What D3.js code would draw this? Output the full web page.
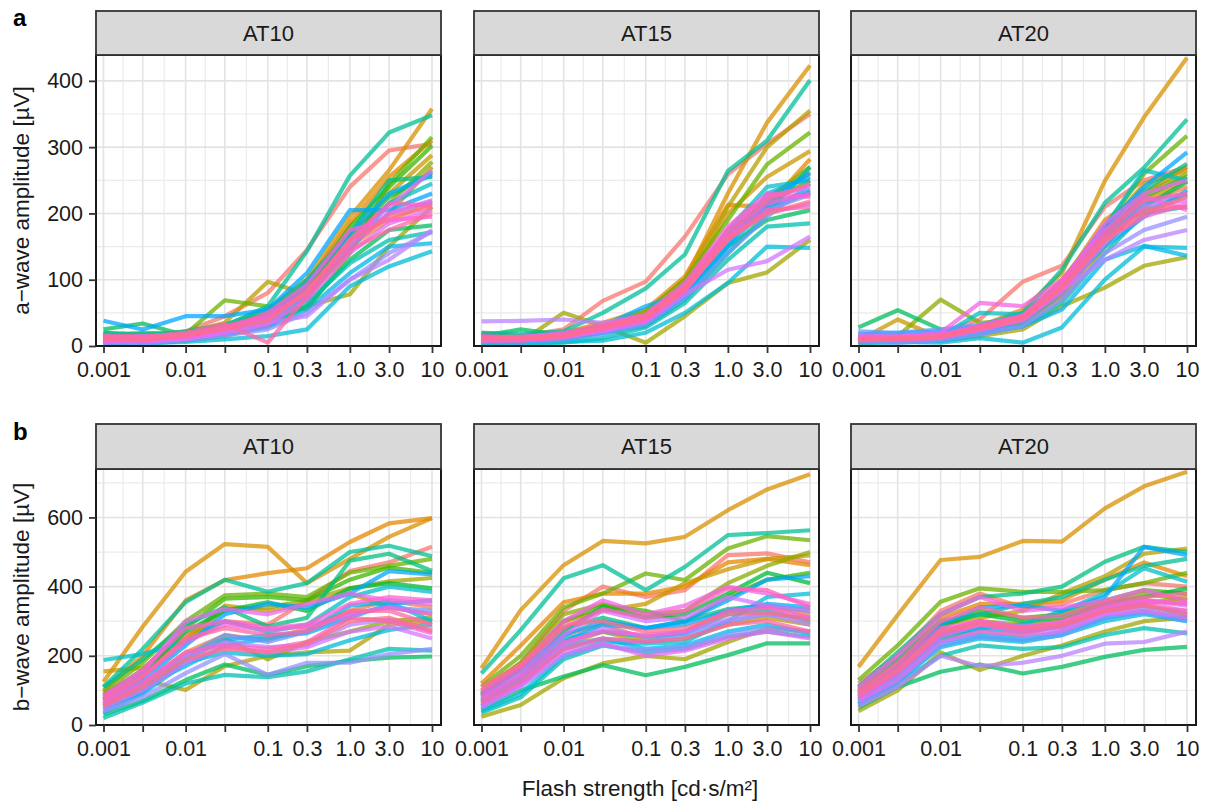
<!DOCTYPE html>
<html lang="en">
<head>
  <meta charset="UTF-8" />
  <title>a-wave and b-wave amplitudes</title>
  <script src="https://d3js.org/d3.v7.min.js"></script>
  <style>
    body, html {
      margin: 0;
      padding: 0;
      background: #fff;
    }
    svg {
      display: block;
      font-family: "Liberation Sans", Arial, sans-serif;
    }
  </style>
</head>
<body>
  <svg id="chart" width="1210" height="801"></svg>
  <script>
    // Flash strengths (x values) and their tick labels
    const flashStrengths = [0.001, 0.003, 0.01, 0.03, 0.1, 0.3, 1, 3, 10];
    const xTickLabels = ['0.001', '', '0.01', '', '0.1', '0.3', '1.0', '3.0', '10'];
    const ages = ['AT10', 'AT15', 'AT20'];
    const aTicks = [0, 100, 200, 300, 400];
    const bTicks = [0, 200, 400, 600];

    // one row per animal (30 animals), one value per flash strength
    const aAT10 = [
      [12, 14, 22, 45, 80, 145, 240, 295, 305],
      [8, 6, 12, 22, 35, 70, 150, 190, 215],
      [10, 8, 14, 28, 45, 95, 185, 255, 310],
      [14, 10, 18, 30, 50, 100, 195, 265, 358],
      [6, 9, 15, 25, 42, 85, 170, 230, 288],
      [18, 12, 20, 35, 97, 78, 150, 200, 270],
      [4, 5, 8, 15, 30, 60, 78, 150, 210],
      [10, 12, 16, 24, 38, 72, 160, 215, 278],
      [15, 20, 18, 69, 60, 55, 140, 245, 315],
      [7, 10, 14, 26, 40, 90, 180, 240, 302],
      [11, 8, 16, 30, 48, 88, 165, 225, 262],
      [25, 34, 16, 20, 35, 60, 130, 175, 182],
      [20, 15, 22, 32, 55, 100, 170, 250, 255],
      [20, 18, 20, 30, 60, 143, 257, 322, 348],
      [5, 3, 8, 18, 30, 65, 125, 160, 172],
      [12, 10, 14, 22, 36, 75, 145, 215, 245],
      [2, 4, 6, 10, 15, 25, 90, 120, 143],
      [8, 6, 10, 18, 28, 55, 110, 150, 155],
      [15, 12, 18, 28, 45, 95, 170, 230, 258],
      [38, 25, 45, 45, 55, 110, 205, 205, 230],
      [9, 11, 13, 22, 34, 78, 155, 200, 218],
      [6, 4, 9, 16, 25, 50, 100, 140, 172],
      [10, 8, 12, 20, 35, 45, 100, 130, 175],
      [13, 15, 18, 27, 40, 80, 160, 210, 265],
      [5, 7, 10, 20, 32, 70, 140, 185, 205],
      [14, 12, 17, 28, 42, 85, 150, 200, 220],
      [8, 10, 14, 25, 50, 92, 175, 190, 195],
      [11, 9, 15, 30, 46, 80, 160, 215, 212],
      [16, 14, 20, 33, 5, 75, 145, 175, 200],
      [12, 10, 16, 26, 38, 82, 158, 195, 210]
    ];
    const aAT15 = [
      [20, 15, 25, 68, 97, 165, 259, 305, 350],
      [10, 8, 15, 28, 42, 90, 175, 225, 260],
      [14, 12, 20, 35, 55, 105, 213, 210, 282],
      [8, 6, 12, 25, 50, 100, 230, 337, 423],
      [12, 10, 18, 30, 48, 90, 200, 255, 294],
      [15, 12, 20, 30, 45, 95, 210, 300, 355],
      [5, 6, 50, 30, 5, 45, 95, 111, 160],
      [10, 12, 16, 25, 40, 85, 170, 220, 270],
      [18, 10, 14, 28, 52, 100, 190, 274, 322],
      [8, 10, 12, 22, 35, 80, 160, 215, 250],
      [12, 14, 18, 30, 45, 88, 165, 205, 232],
      [15, 25, 16, 25, 38, 82, 150, 190, 205],
      [6, 8, 10, 20, 30, 70, 140, 200, 270],
      [20, 18, 22, 50, 87, 138, 264, 310, 401],
      [4, 2, 5, 12, 28, 65, 130, 180, 185],
      [12, 10, 15, 28, 42, 88, 175, 240, 250],
      [2, 3, 6, 8, 20, 50, 95, 150, 148],
      [10, 8, 12, 20, 35, 75, 150, 230, 255],
      [8, 10, 15, 30, 60, 80, 150, 210, 235],
      [14, 12, 18, 28, 44, 92, 170, 215, 262],
      [6, 5, 10, 18, 32, 72, 140, 195, 245],
      [11, 13, 20, 26, 40, 85, 160, 205, 228],
      [37, 38, 40, 35, 45, 90, 165, 200, 215],
      [9, 11, 14, 22, 36, 78, 115, 128, 165],
      [12, 14, 16, 26, 42, 90, 175, 225, 240],
      [7, 9, 12, 24, 38, 82, 165, 215, 230],
      [15, 13, 19, 32, 48, 95, 180, 230, 225],
      [10, 8, 14, 27, 40, 85, 160, 205, 210],
      [13, 11, 17, 30, 45, 90, 170, 220, 245],
      [11, 12, 15, 28, 43, 86, 162, 200, 218]
    ];
    const aAT20 = [
      [15, 12, 20, 40, 97, 121, 210, 250, 270],
      [10, 8, 14, 25, 40, 85, 170, 215, 240],
      [12, 10, 16, 30, 48, 95, 190, 230, 270],
      [10, 8, 15, 30, 55, 110, 249, 345, 435],
      [8, 40, 12, 24, 38, 80, 175, 245, 265],
      [6, 8, 10, 20, 30, 70, 150, 220, 250],
      [5, 6, 8, 15, 25, 60, 88, 121, 134],
      [12, 15, 70, 35, 40, 75, 160, 230, 260],
      [9, 12, 14, 28, 45, 100, 180, 260, 317],
      [14, 10, 18, 30, 42, 90, 170, 225, 255],
      [7, 9, 12, 22, 35, 80, 160, 210, 248],
      [28, 54, 25, 20, 38, 85, 165, 205, 228],
      [11, 13, 16, 26, 40, 88, 170, 235, 275],
      [12, 10, 18, 30, 50, 115, 216, 269, 342],
      [6, 5, 8, 18, 30, 65, 140, 200, 210],
      [13, 11, 15, 50, 48, 90, 180, 265, 250],
      [4, 6, 5, 12, 5, 28, 100, 150, 148],
      [8, 6, 10, 20, 30, 55, 130, 151, 136],
      [10, 12, 16, 28, 42, 85, 150, 195, 235],
      [18, 20, 22, 30, 44, 95, 180, 240, 292],
      [22, 20, 25, 32, 46, 92, 165, 215, 230],
      [7, 5, 9, 18, 30, 70, 140, 175, 195],
      [14, 12, 18, 28, 40, 85, 130, 160, 175],
      [9, 11, 14, 24, 38, 80, 155, 210, 220],
      [12, 14, 17, 30, 45, 95, 185, 230, 250],
      [16, 14, 20, 65, 60, 100, 175, 225, 205],
      [8, 10, 12, 25, 40, 85, 160, 195, 215],
      [13, 11, 16, 30, 46, 98, 170, 220, 230],
      [11, 9, 15, 28, 44, 90, 165, 205, 210],
      [10, 12, 14, 26, 42, 88, 160, 200, 225]
    ];
    const bAT10 = [
      [90, 150, 260, 300, 290, 360, 445, 470, 515],
      [70, 120, 210, 260, 245, 280, 330, 360, 340],
      [100, 200, 360, 419, 439, 453, 529, 583, 598],
      [125, 284, 443, 523, 515, 410, 480, 544, 598],
      [155, 165, 250, 345, 330, 350, 380, 340, 320],
      [60, 130, 101, 170, 200, 210, 215, 290, 300],
      [80, 140, 240, 335, 340, 360, 395, 415, 425],
      [50, 100, 200, 250, 190, 240, 270, 300, 310],
      [95, 180, 300, 375, 380, 370, 440, 460, 480],
      [85, 160, 280, 365, 370, 360, 420, 455, 440],
      [75, 150, 270, 330, 355, 330, 395, 410, 395],
      [30, 70, 130, 175, 145, 170, 185, 195, 198],
      [110, 190, 290, 340, 285, 310, 475, 495, 445],
      [110, 220, 355, 420, 385, 410, 500, 518, 488],
      [20, 65, 120, 145, 138, 155, 190, 220, 215],
      [188, 205, 240, 300, 270, 290, 370, 400, 385],
      [35, 90, 180, 210, 200, 205, 245, 275, 290],
      [55, 110, 170, 230, 250, 270, 345, 355, 300],
      [45, 95, 190, 245, 260, 265, 310, 350, 360],
      [70, 130, 230, 320, 350, 340, 380, 445, 435],
      [60, 115, 200, 260, 240, 270, 320, 340, 330],
      [40, 80, 150, 205, 145, 180, 180, 205, 220],
      [65, 125, 200, 240, 225, 230, 290, 305, 270],
      [50, 100, 180, 225, 210, 225, 270, 285, 250],
      [80, 150, 300, 335, 320, 350, 380, 360, 350],
      [70, 140, 240, 290, 275, 285, 320, 340, 320],
      [85, 160, 280, 300, 280, 290, 350, 370, 360],
      [60, 120, 210, 230, 220, 240, 310, 300, 265],
      [75, 140, 250, 280, 260, 270, 330, 330, 290],
      [55, 110, 190, 220, 210, 235, 300, 310, 275]
    ];
    const bAT15 = [
      [100, 180, 330, 400, 370, 390, 491, 496, 470],
      [80, 150, 260, 290, 250, 270, 330, 340, 320],
      [120, 230, 355, 380, 380, 400, 470, 480, 462],
      [164, 332, 462, 532, 525, 544, 621, 681, 725],
      [90, 170, 300, 330, 350, 410, 450, 480, 490],
      [60, 120, 230, 270, 240, 250, 290, 310, 290],
      [24, 58, 135, 178, 200, 190, 240, 280, 270],
      [95, 180, 320, 350, 320, 330, 410, 460, 500],
      [110, 200, 340, 380, 438, 419, 510, 546, 534],
      [85, 160, 300, 345, 330, 300, 370, 420, 440],
      [70, 140, 270, 340, 310, 320, 380, 440, 410],
      [45, 100, 140, 173, 144, 168, 202, 236, 236],
      [90, 170, 280, 310, 280, 300, 335, 345, 330],
      [149, 274, 424, 462, 390, 457, 549, 555, 563],
      [35, 80, 190, 230, 210, 220, 255, 270, 255],
      [75, 140, 250, 270, 255, 265, 320, 330, 300],
      [40, 90, 200, 240, 235, 240, 300, 370, 380],
      [55, 120, 220, 250, 220, 230, 270, 290, 265],
      [65, 130, 240, 290, 280, 290, 330, 350, 340],
      [85, 160, 260, 300, 280, 300, 360, 420, 430],
      [70, 135, 230, 250, 240, 260, 300, 320, 310],
      [50, 110, 200, 230, 215, 225, 260, 280, 270],
      [60, 120, 230, 280, 255, 270, 305, 320, 290],
      [80, 150, 260, 330, 300, 310, 370, 345, 330],
      [55, 115, 210, 235, 200, 215, 250, 270, 250],
      [100, 170, 300, 360, 320, 345, 400, 380, 350],
      [75, 140, 240, 270, 260, 270, 330, 340, 310],
      [90, 165, 280, 335, 310, 330, 395, 390, 340],
      [65, 125, 220, 250, 240, 250, 290, 300, 270],
      [110, 175, 290, 300, 270, 280, 320, 325, 305]
    ];
    const bAT20 = [
      [120, 200, 330, 380, 340, 350, 390, 410, 400],
      [90, 160, 270, 300, 280, 290, 340, 360, 350],
      [110, 190, 310, 350, 350, 360, 420, 470, 430],
      [168, 318, 477, 486, 532, 530, 626, 690, 732],
      [80, 150, 250, 270, 260, 290, 340, 350, 370],
      [100, 180, 290, 310, 330, 380, 430, 495, 510],
      [40, 100, 210, 159, 200, 230, 270, 300, 310],
      [70, 140, 260, 300, 290, 300, 350, 380, 360],
      [130, 230, 356, 395, 385, 385, 390, 410, 440],
      [85, 160, 280, 330, 310, 320, 360, 390, 380],
      [95, 170, 290, 320, 300, 310, 350, 370, 395],
      [50, 110, 154, 175, 149, 168, 197, 217, 226],
      [110, 210, 320, 370, 380, 400, 472, 515, 500],
      [105, 190, 300, 320, 350, 370, 420, 460, 480],
      [60, 120, 200, 230, 220, 225, 260, 280, 265],
      [75, 150, 250, 280, 290, 330, 380, 453, 414],
      [60, 125, 225, 250, 240, 260, 300, 320, 300],
      [70, 135, 240, 260, 250, 270, 310, 330, 310],
      [80, 150, 260, 280, 270, 285, 330, 345, 320],
      [90, 170, 290, 340, 345, 330, 370, 515, 491],
      [65, 125, 230, 255, 245, 260, 310, 325, 300],
      [75, 140, 255, 290, 275, 280, 320, 340, 330],
      [55, 110, 200, 170, 180, 200, 235, 240, 270],
      [85, 155, 270, 300, 285, 295, 340, 360, 345],
      [70, 130, 240, 270, 260, 270, 320, 330, 310],
      [110, 200, 320, 370, 330, 340, 360, 390, 360],
      [95, 170, 280, 300, 280, 300, 345, 360, 350],
      [80, 150, 260, 290, 270, 285, 330, 350, 330],
      [100, 180, 300, 340, 310, 315, 355, 370, 380],
      [90, 160, 270, 295, 280, 290, 330, 345, 320]
    ];

    // ggplot-like hue palette: polar LUV (c = 100, l = 65) -> sRGB
    function hueColor(h) {
      const L = 65, C = 100, hr = h * Math.PI / 180;
      const U = C * Math.cos(hr), V = C * Math.sin(hr);
      const Xn = 95.047, Yn = 100, Zn = 108.883;
      const den = Xn + 15 * Yn + 3 * Zn;
      const un = 4 * Xn / den, vn = 9 * Yn / den;
      const Y = Yn * Math.pow((L + 16) / 116, 3);
      const u = U / (13 * L) + un, v = V / (13 * L) + vn;
      const X = 9 * Y * u / (4 * v);
      const Z = 3 * Y / v - X / 3 - 5 * Y;
      const x = X / 100, y = Y / 100, z = Z / 100;
      const lin = [
        3.240479 * x - 1.537150 * y - 0.498535 * z,
        -0.969256 * x + 1.875992 * y + 0.041556 * z,
        0.055648 * x - 0.204043 * y + 1.057311 * z
      ];
      const rgb = lin.map(c => {
        const g = c <= 0.0031308 ? 12.92 * c : 1.055 * Math.pow(c, 1 / 2.4) - 0.055;
        return Math.round(255 * Math.max(0, Math.min(1, g)));
      });
      return d3.rgb(rgb[0], rgb[1], rgb[2]).formatHex();
    }

    const nAnimals = aAT10.length;
    const colors = d3.range(nAnimals).map(i => hueColor(15 + i * 360 / nAnimals));

    const svg = d3.select('#chart');

    const colX = [[96, 441], [474, 819], [851, 1196]];
    const rows = [
      { tag: 'a', title: 'a\u2212wave amplitude [\u00b5V]', stripTop: 11, top: 55, bottom: 346,
        yMax: 439, ticks: aTicks, panels: [aAT10, aAT15, aAT20] },
      { tag: 'b', title: 'b\u2212wave amplitude [\u00b5V]', stripTop: 424, top: 469, bottom: 725,
        yMax: 740, ticks: bTicks, panels: [bAT10, bAT15, bAT20] }
    ];

    // minor breaks halfway between major ones (in transformed space)
    const xMinor = d3.pairs(flashStrengths).map(([a, b]) => Math.sqrt(a * b));

    rows.forEach((row, ri) => {
      const y = d3.scaleLinear().domain([0, row.yMax]).range([row.bottom, row.top]);
      const step = row.ticks[1] - row.ticks[0];
      const yMinor = d3.range(step / 2, row.yMax, step);

      row.panels.forEach((values, ci) => {
        const [x0, x1] = colX[ci];
        const x = d3.scaleLog().domain([0.001, 10]).range([x0 + 7.5, x1 - 9]);
        const g = svg.append('g');

        // grid
        g.append('g').selectAll('line').data(yMinor).join('line')
          .attr('x1', x0).attr('x2', x1).attr('y1', d => y(d)).attr('y2', d => y(d))
          .attr('stroke', '#ebebeb').attr('stroke-width', 1.2);
        g.append('g').selectAll('line').data(xMinor).join('line')
          .attr('x1', d => x(d)).attr('x2', d => x(d)).attr('y1', row.top).attr('y2', row.bottom)
          .attr('stroke', '#ebebeb').attr('stroke-width', 1.2);
        g.append('g').selectAll('line').data(row.ticks).join('line')
          .attr('x1', x0).attr('x2', x1).attr('y1', d => y(d)).attr('y2', d => y(d))
          .attr('stroke', '#e3e3e3').attr('stroke-width', 1.6);
        g.append('g').selectAll('line').data(flashStrengths).join('line')
          .attr('x1', d => x(d)).attr('x2', d => x(d)).attr('y1', row.top).attr('y2', row.bottom)
          .attr('stroke', '#e3e3e3').attr('stroke-width', 1.6);

        // lines
        const clipId = `clip-${ri}-${ci}`;
        svg.append('clipPath').attr('id', clipId).append('rect')
          .attr('x', x0).attr('y', row.top).attr('width', x1 - x0).attr('height', row.bottom - row.top);

        const line = d3.line()
          .x((d, i) => x(flashStrengths[i]))
          .y(d => y(d));

        g.append('g').attr('clip-path', `url(#${clipId})`)
          .selectAll('path').data(values).join('path')
          .attr('d', d => line(d))
          .attr('fill', 'none')
          .attr('stroke', (d, i) => colors[i])
          .attr('stroke-width', 4.2)
          .attr('stroke-opacity', 0.75)
          .attr('stroke-linejoin', 'round');

        // panel border
        g.append('rect')
          .attr('x', x0).attr('y', row.top).attr('width', x1 - x0).attr('height', row.bottom - row.top)
          .attr('fill', 'none').attr('stroke', '#1a1a1a').attr('stroke-width', 2);

        // strip
        g.append('rect')
          .attr('x', x0).attr('y', row.stripTop).attr('width', x1 - x0).attr('height', row.top - row.stripTop)
          .attr('fill', '#d9d9d9').attr('stroke', '#333').attr('stroke-width', 1.8);
        g.append('text')
          .attr('x', (x0 + x1) / 2).attr('y', (row.stripTop + row.top) / 2)
          .attr('dy', '0.36em').attr('text-anchor', 'middle')
          .attr('font-size', 22).attr('fill', '#1a1a1a')
          .text(ages[ci]);

        // x axis
        const xAxis = g.append('g').attr('transform', `translate(0,${row.bottom})`)
          .call(d3.axisBottom(x).tickValues(flashStrengths)
            .tickFormat((d, i) => xTickLabels[i]).tickSize(7).tickPadding(9));
        xAxis.select('.domain').remove();
        xAxis.selectAll('line').attr('stroke', '#333').attr('stroke-width', 1.8);
        xAxis.selectAll('text').attr('font-size', 21.5).attr('fill', '#1a1a1a')
          .attr('font-family', '"Liberation Sans", Arial, sans-serif');

        // y axis on the first column only
        if (ci === 0) {
          const yAxis = g.append('g').attr('transform', `translate(${x0},0)`)
            .call(d3.axisLeft(y).tickValues(row.ticks).tickSize(7).tickPadding(6));
          yAxis.select('.domain').remove();
          yAxis.selectAll('line').attr('stroke', '#333').attr('stroke-width', 1.8);
          yAxis.selectAll('text').attr('font-size', 21.5).attr('fill', '#1a1a1a')
            .attr('font-family', '"Liberation Sans", Arial, sans-serif');
        }
      });

      // y title
      svg.append('text')
        .attr('transform', `translate(29,${(row.top + row.bottom) / 2}) rotate(-90)`)
        .attr('text-anchor', 'middle')
        .attr('font-size', 22.5).attr('fill', '#1a1a1a')
        .text(row.title);

      // panel tag
      svg.append('text')
        .attr('x', 13).attr('y', row.stripTop + (ri === 0 ? 15 : 16))
        .attr('font-size', 24).attr('font-weight', 'bold').attr('fill', '#000')
        .text(row.tag);
    });

    // x title
    svg.append('text')
      .attr('x', 640).attr('y', 796)
      .attr('text-anchor', 'middle')
      .attr('font-size', 22.5).attr('fill', '#1a1a1a')
      .text('Flash strength [cd\u00b7s/m\u00b2]');
  </script>
</body>
</html>
